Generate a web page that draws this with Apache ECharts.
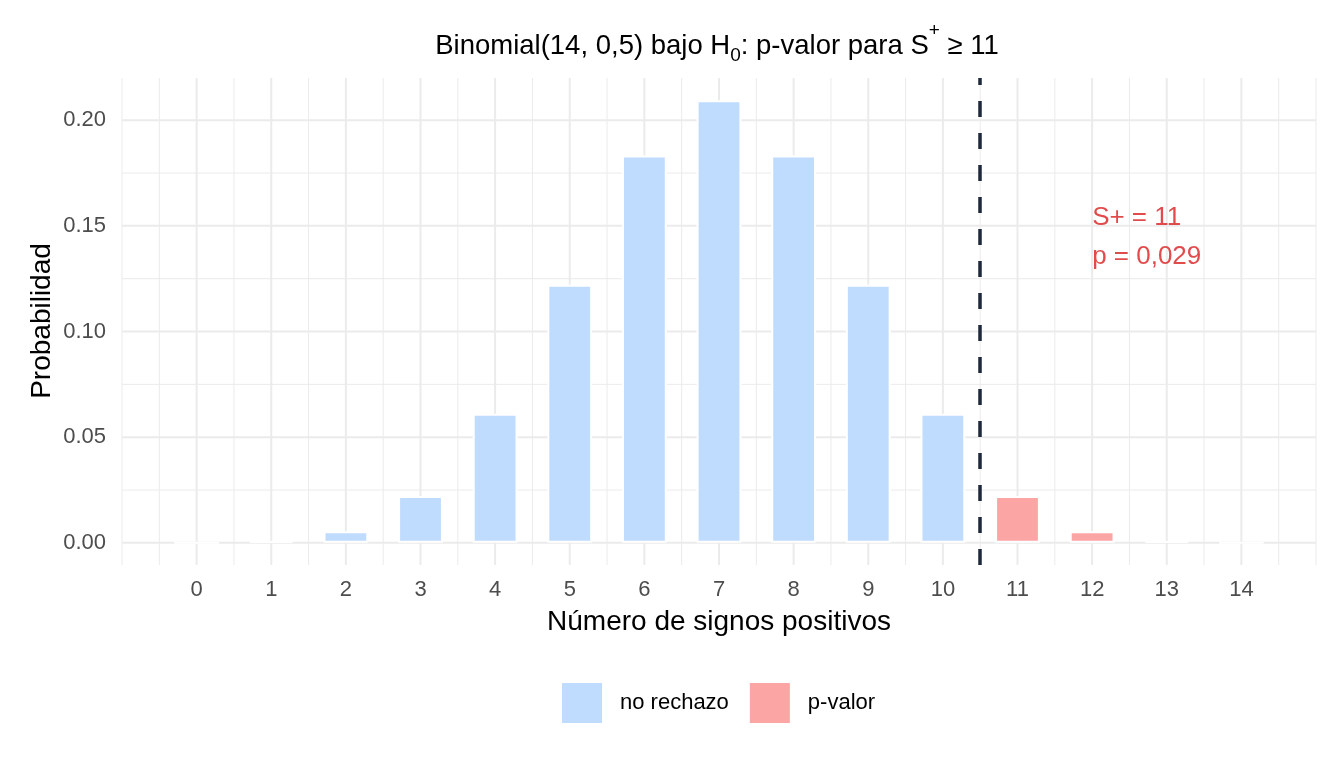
<!DOCTYPE html>
<html>
<head>
<meta charset="utf-8">
<script src="https://cdn.jsdelivr.net/npm/echarts@6/dist/echarts.min.js"></script>
<style>
html,body{margin:0;padding:0;background:#fff;}
#chart{width:1344px;height:768px;}
</style>
</head>
<body>
<div id="chart"></div>
<script>
// ---- data ----
const xNoRechazo = [0, 1, 2, 3, 4, 5, 6, 7, 8, 9, 10];
const probNoRechazo = [0.000061, 0.000854, 0.005554, 0.022217, 0.061096, 0.122192, 0.183289, 0.209473, 0.183289, 0.122192, 0.061096];
const xPValor = [11, 12, 13, 14];
const probPValor = [0.022217, 0.005554, 0.000854, 0.000061];
const xTickLabels = [0, 1, 2, 3, 4, 5, 6, 7, 8, 9, 10, 11, 12, 13, 14];
const yTickLabels = [0, 0.05, 0.10, 0.15, 0.20];
const yMinorTicks = [0.025, 0.075, 0.125, 0.175];
const xMinorTicks = [-1, -0.5, 0.5, 1.5, 2.5, 3.5, 4.5, 5.5, 6.5, 7.5, 8.5, 9.5, 10.5, 11.5, 12.5, 13.5, 14.5, 15];
const cutLine = 10.5;
const annotationPos = [12, 0.1447];
const annotationLines = ['S+ = 11', 'p = 0,029'];
const seriesNames = ['no rechazo', 'p-valor'];

const FONT = "'Liberation Sans', Arial, sans-serif";
const BLUE = '#BFDBFE';
const RED_FILL = '#FCA5A5';
const GRID = '#EBEBEB';

// gridline items: [orientation(0=vertical,1=horizontal), value, width]
const gridItems = [];
xTickLabels.forEach(v => gridItems.push([0, v, 2]));
xMinorTicks.forEach(v => gridItems.push([0, v, 1]));
yTickLabels.forEach(v => gridItems.push([1, v, 2]));
yMinorTicks.forEach(v => gridItems.push([1, v, 1]));

const chart = echarts.init(document.getElementById('chart'), null, {renderer: 'canvas'});

const option = {
  backgroundColor: '#ffffff',
  animation: false,
  textStyle: {fontFamily: FONT},
  grid: {left: 122, right: 28, top: 78, bottom: 203, containLabel: false},
  xAxis: {
    type: 'value', min: -1, max: 15, interval: 1,
    axisLine: {show: false, onZero: false}, axisTick: {show: false},
    splitLine: {show: false},
    axisLabel: {
      customValues: xTickLabels,
      formatter: v => String(v),
      color: '#4D4D4D', fontSize: 22, margin: 14, fontFamily: FONT
    }
  },
  yAxis: {
    type: 'value', min: -0.01047, max: 0.21997,
    axisLine: {show: false, onZero: false}, axisTick: {show: false},
    splitLine: {show: false},
    axisLabel: {
      customValues: yTickLabels,
      formatter: v => v.toFixed(2),
      color: '#4D4D4D', fontSize: 22, margin: 16, fontFamily: FONT
    }
  },
  legend: {
    data: seriesNames,
    left: 562, top: 683, orient: 'horizontal', padding: 0,
    icon: 'rect', itemWidth: 40, itemHeight: 40, itemGap: 21,
    itemStyle: {borderWidth: 0},
    textStyle: {fontSize: 22, color: '#000', fontFamily: FONT, padding: [5, 0, 0, 13]}
  },
  graphic: [
    {
      type: 'text', x: 717, y: 21, z: 10,
      style: {
        text: '{m|Binomial(14, 0,5) bajo H}{s|0}{m|: p-valor para S}{p|+}{m| ≥ 11}',
        align: 'center', verticalAlign: 'top',
        rich: {
          m: {fontSize: 27.5, lineHeight: 50, fontFamily: FONT, fill: '#000'},
          s: {fontSize: 19, lineHeight: 40, verticalAlign: 'bottom', padding: [0, 0, 6, 0], fontFamily: FONT, fill: '#000'},
          p: {fontSize: 19, lineHeight: 17, verticalAlign: 'top', fontFamily: FONT, fill: '#000'}
        }
      }
    },
    {
      type: 'text', x: 719, y: 622, z: 10,
      style: {text: 'Número de signos positivos', fontSize: 28, fontFamily: FONT, fill: '#000', align: 'center', verticalAlign: 'middle'}
    },
    {
      type: 'text', x: 42, y: 321, rotation: Math.PI / 2, z: 10,
      style: {text: 'Probabilidad', fontSize: 28, fontFamily: FONT, fill: '#000', align: 'center', verticalAlign: 'middle'}
    }
  ],
  series: [
    {
      type: 'custom', name: 'grid', z: 1, silent: true,
      data: gridItems,
      encode: {x: 1, y: 1},
      clip: false,
      renderItem: function (params, api) {
        const cs = params.coordSys;
        const o = api.value(0), v = api.value(1), w = api.value(2);
        let shape;
        if (o === 0) {
          const px = api.coord([v, 0])[0];
          shape = {x1: px, y1: cs.y, x2: px, y2: cs.y + cs.height};
        } else {
          const py = api.coord([0, v])[1];
          shape = {x1: cs.x, y1: py, x2: cs.x + cs.width, y2: py};
        }
        return {type: 'line', shape: shape, style: {stroke: GRID, lineWidth: w}};
      }
    },
    {
      type: 'bar', name: seriesNames[0], z: 2,
      data: xNoRechazo.map((x, i) => [x, probNoRechazo[i]]),
      barWidth: 44.8, barGap: '-100%',
      itemStyle: {color: BLUE, borderColor: '#ffffff', borderWidth: 2}
    },
    {
      type: 'bar', name: seriesNames[1], z: 3,
      data: xPValor.map((x, i) => [x, probPValor[i]]),
      barWidth: 44.8, barGap: '-100%',
      itemStyle: {color: RED_FILL, borderColor: '#ffffff', borderWidth: 2},
      markLine: {
        silent: true, symbol: ['none', 'none'], label: {show: false},
        lineStyle: {color: '#1E293B', width: 3.5, type: [16, 16]},
        data: [{xAxis: cutLine}]
      }
    },
    {
      type: 'scatter', name: 'anot', z: 4, silent: true,
      symbolSize: 0,
      data: [annotationPos],
      label: {
        show: true, position: 'right', distance: 0,
        formatter: annotationLines.join('\n'),
        color: '#D91E1E', fontSize: 26, lineHeight: 39, fontFamily: FONT, align: 'left'
      }
    }
  ]
};
chart.setOption(option);
</script>
</body>
</html>
